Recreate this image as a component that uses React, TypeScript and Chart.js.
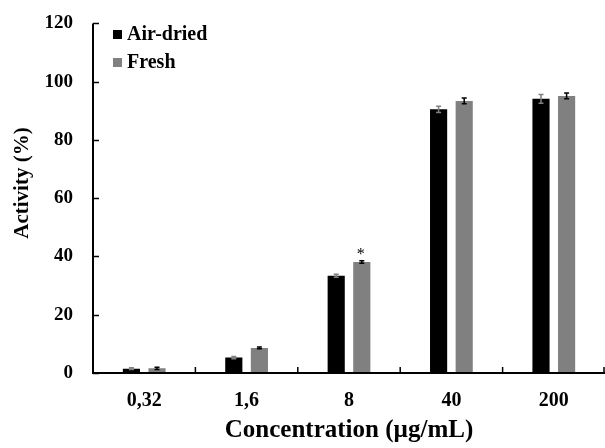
import React, { useEffect, useRef } from "react";
import { Chart, registerables } from "chart.js";

Chart.register(...registerables);

const categories = ["0,32", "1,6", "8", "40", "200"];
const airDried = [1.5, 5.3, 33.4, 90.5, 94.1];
const fresh = [1.6, 8.6, 38.1, 93.4, 95.1];
const airDriedErr = [0.3, 0.4, 0.5, 1.1, 1.5];
const freshErr = [0.4, 0.3, 0.4, 1.0, 1.0];
const freshMarks = ["", "", "*", "", ""];
const seriesNames = ["Air-dried", "Fresh"];
const yTicks = [0, 20, 40, 60, 80, 100, 120];

const FONT = "'Liberation Serif', 'Times New Roman', serif";
const BLACK = "#000000";
const GRAY = "#808080";

const errs = [airDriedErr, freshErr];
const errColors = [GRAY, BLACK];

const customPlugin = {
  id: "custom",
  afterDatasetsDraw(chart: any) {
    const ctx = chart.ctx;
    const y = chart.scales.y;
    ctx.save();
    chart.data.datasets.forEach((ds: any, di: number) => {
      const meta = chart.getDatasetMeta(di);
      meta.data.forEach((bar: any, i: number) => {
        const v = ds.data[i];
        const e = errs[di][i];
        const yTop = y.getPixelForValue(v + e);
        const yBot = y.getPixelForValue(v - e);
        ctx.strokeStyle = errColors[di];
        ctx.lineWidth = 1.5;
        ctx.beginPath();
        ctx.moveTo(bar.x, yTop);
        ctx.lineTo(bar.x, yBot);
        ctx.moveTo(bar.x - 2.5, yTop);
        ctx.lineTo(bar.x + 2.5, yTop);
        ctx.moveTo(bar.x - 2.5, yBot);
        ctx.lineTo(bar.x + 2.5, yBot);
        ctx.stroke();
        if (di === 1 && freshMarks[i]) {
          ctx.fillStyle = BLACK;
          ctx.font = `16px ${FONT}`;
          ctx.textAlign = "center";
          ctx.textBaseline = "alphabetic";
          ctx.fillText(freshMarks[i], bar.x - 1, yTop - 2);
        }
      });
    });
    ctx.restore();
  },
  afterDraw(chart: any) {
    const ctx = chart.ctx;
    const { left, right, top, bottom } = chart.chartArea;
    const y = chart.scales.y;
    ctx.save();
    ctx.strokeStyle = BLACK;
    ctx.lineWidth = 2;
    ctx.beginPath();
    ctx.moveTo(left, top);
    ctx.lineTo(left, bottom);
    ctx.lineTo(right, bottom);
    ctx.stroke();
    ctx.lineWidth = 1.5;
    ctx.beginPath();
    yTicks.forEach((t) => {
      const py = Math.round(y.getPixelForValue(t)) + 0.5;
      ctx.moveTo(left, py);
      ctx.lineTo(left + 6, py);
    });
    const cw = (right - left) / categories.length;
    for (let i = 1; i <= categories.length; i++) {
      const px = Math.min(left + i * cw, right - 1);
      ctx.moveTo(px, bottom);
      ctx.lineTo(px, bottom - 6);
    }
    ctx.stroke();

    // legend
    ctx.font = `bold 20px ${FONT}`;
    ctx.textAlign = "left";
    ctx.textBaseline = "alphabetic";
    const colors = [BLACK, GRAY];
    seriesNames.forEach((name, i) => {
      const baseY = 40 + i * 28;
      ctx.fillStyle = colors[i];
      ctx.fillRect(113, baseY - 10, 9, 9);
      ctx.fillStyle = BLACK;
      ctx.fillText(name, 127, baseY);
    });

    // axis titles
    ctx.font = `bold 25px ${FONT}`;
    ctx.textAlign = "center";
    ctx.textBaseline = "middle";
    ctx.fillText("Concentration (\u00b5g/mL)", (left + right) / 2, 431);
    ctx.save();
    ctx.translate(23, 183);
    ctx.rotate(-Math.PI / 2);
    ctx.font = `bold 21px ${FONT}`;
    ctx.fillText("Activity (%)", 0, 0);
    ctx.restore();
    ctx.restore();
  },
};

export default function App() {
  const ref = useRef<HTMLCanvasElement | null>(null);
  useEffect(() => {
    if (!ref.current) return;
    const chart = new Chart(ref.current, {
      type: "bar",
      data: {
        labels: categories,
        datasets: [
          { label: seriesNames[0], data: airDried, backgroundColor: BLACK },
          { label: seriesNames[1], data: fresh, backgroundColor: GRAY },
        ],
      },
      options: {
        animation: false,
        responsive: false,
        devicePixelRatio: 1,
        layout: { padding: { top: 19, right: 0, left: 0, bottom: 0 } },
        datasets: { bar: { categoryPercentage: 0.5, barPercentage: 0.67 } },
        plugins: { legend: { display: false }, tooltip: { enabled: false } },
        scales: {
          x: {
            grid: { display: false },
            border: { display: false },
            ticks: { color: BLACK, font: { family: FONT, size: 20, weight: "bold" }, padding: 8 },
            afterFit: (s: any) => { s.height = 75; },
          },
          y: {
            min: 0,
            max: 120,
            grid: { display: false },
            border: { display: false },
            ticks: { stepSize: 20, color: BLACK, font: { family: FONT, size: 19, weight: "bold" }, padding: 12 },
            afterFit: (s: any) => { s.width = 93; },
          },
        },
      },
      plugins: [customPlugin],
    } as any);
    return () => chart.destroy();
  }, []);
  return (
    <div style={{ position: "absolute", left: 0, top: 0, width: 605, height: 448, background: "#fff" }}>
      <canvas ref={ref} width={605} height={448} />
    </div>
  );
}
